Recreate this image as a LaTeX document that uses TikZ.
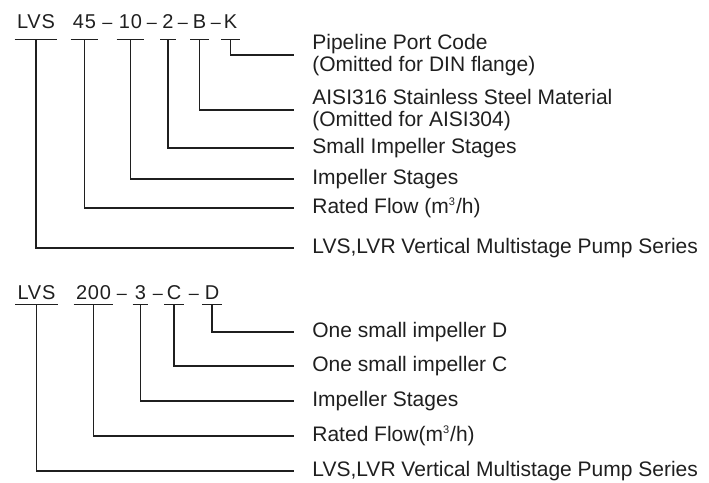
\documentclass[tikz,border=0pt]{standalone}
\usepackage{fontspec}
\setmainfont{Liberation Sans}
\newfontfamily\codefont[LetterSpace=4]{Liberation Sans}
\newcommand{\cube}{\textsuperscript{\fontsize{5.5}{6}\selectfont 3}}
\tikzset{
    code/.style={anchor=base, inner xsep=1pt, text depth=0pt, font=\codefont\fontsize{10}{12}\selectfont},
    toprow/.style={code, inner ysep=5.5pt},
    botrow/.style={code, inner ysep=2.5pt},
    codedash/.style={anchor=base, inner sep=0pt, font=\fontsize{9}{11}\selectfont},
    lbl/.style={anchor=west, inner sep=0pt, align=left, font=\fontsize{10.5}{11}\selectfont},
    bar/.style={line width=0.8pt},
    leg/.style={line width=0.8pt, shorten >=9pt},
}
\begin{document}
\begin{tikzpicture}[x=0.5pt, y=-0.5pt, color={black!88}]
    \useasboundingbox (0,0) rectangle (709,483);

    % first model code
    \node at (36,28) [toprow] (lvs) {LVS};
    \node at (84.5,28) [toprow] (flw) {45};
    \node at (107.5,28) [codedash] {–};
    \node at (130.5,28) [toprow] (stg) {10};
    \node at (152,28) [codedash] {–};
    \node at (168,28) [toprow] (sml) {2};
    \node at (183,28) [codedash] {–};
    \node at (199.5,28) [toprow] (mat) {B};
    \node at (216,28) [codedash] {–};
    \node at (230.5,28) [toprow] (prt) {K};

    \node at (312,55) [lbl] (port) {Pipeline Port Code\\(Omitted for DIN flange)};
    \node at (312,110) [lbl] (steel) {AISI316 Stainless Steel Material\\(Omitted for AISI304)};
    \node at (312,148) [lbl] (small) {Small Impeller Stages};
    \node at (312,179) [lbl] (stages) {Impeller Stages};
    \node at (312,208) [lbl] (flow) {Rated Flow (m\cube/h)};
    \node at (312,248) [lbl] (series) {LVS,LVR Vertical Multistage Pump Series};

    \foreach \n in {lvs,flw,stg,sml,mat,prt}
        \draw[bar] (\n.south west) -- (\n.south east);
    \draw[leg] (prt.south) |- (port.west);
    \draw[leg] (mat.south) |- (steel.west);
    \draw[leg] (sml.south) |- (small.west);
    \draw[leg] (stg.south) |- (stages.west);
    \draw[leg] (flw.south) |- (flow.west);
    \draw[leg] (lvs.south) |- (series.west);

    % second model code
    \node at (36.5,299) [botrow] (lvsb) {LVS};
    \node at (93.5,299) [botrow] (flwb) {200};
    \node at (122,299) [codedash] {–};
    \node at (140.5,299) [botrow] (stgb) {3};
    \node at (158,299) [codedash] {–};
    \node at (174,299) [botrow] (impc) {C};
    \node at (194,299) [codedash] {–};
    \node at (212,299) [botrow] (impd) {D};

    \node at (312,332) [lbl] (oned) {One small impeller D};
    \node at (312,366) [lbl] (onec) {One small impeller C};
    \node at (312,401) [lbl] (stagesb) {Impeller Stages};
    \node at (312,436) [lbl] (flowb) {Rated Flow(m\cube/h)};
    \node at (312,471) [lbl] (seriesb) {LVS,LVR Vertical Multistage Pump Series};

    \foreach \n in {lvsb,flwb,stgb,impc,impd}
        \draw[bar] (\n.south west) -- (\n.south east);
    \draw[leg] (impd.south) |- (oned.west);
    \draw[leg] (impc.south) |- (onec.west);
    \draw[leg] (stgb.south) |- (stagesb.west);
    \draw[leg] (flwb.south) |- (flowb.west);
    \draw[leg] (lvsb.south) |- (seriesb.west);
\end{tikzpicture}
\end{document}
